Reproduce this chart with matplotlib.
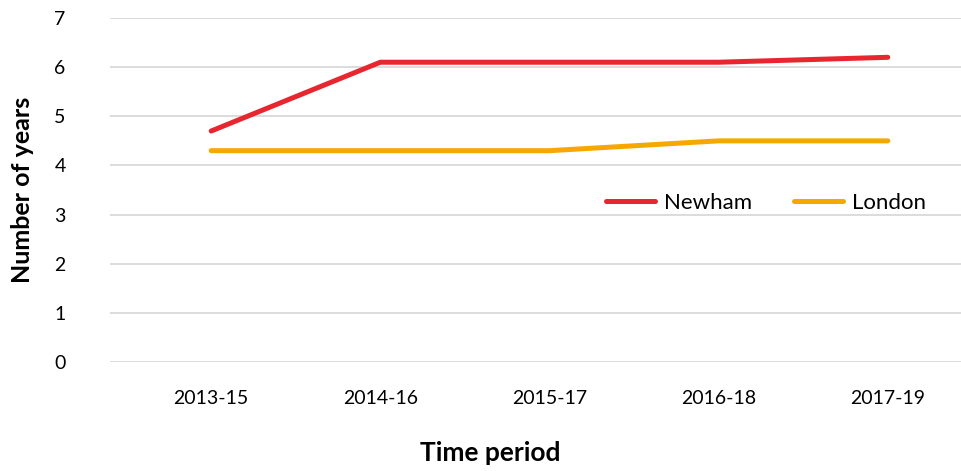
import matplotlib
matplotlib.use("Agg")
import matplotlib.pyplot as plt

periods = ["2013-15", "2014-16", "2015-17", "2016-18", "2017-19"]
newham = [4.7, 6.1, 6.1, 6.1, 6.2]
london = [4.3, 4.3, 4.3, 4.5, 4.5]

plt.rcParams['font.family'] = ['Lato', 'DejaVu Sans']

fig = plt.figure(figsize=(9.61, 4.71), dpi=100)
ax = fig.add_axes([0.1145, 0.2314, 0.885, 0.7304])

x = range(len(periods))
ax.plot(x, newham, color='#E8262F', lw=3.6, label='Newham', solid_capstyle='round')
ax.plot(x, london, color='#F5A800', lw=3.6, label='London', solid_capstyle='round')

ax.set_xlim(-0.598, 4.43)
ax.set_ylim(0, 7)
ax.set_yticks(range(0, 8))
ax.set_xticks(list(x))
ax.set_xticklabels(periods)
ax.yaxis.grid(True, color='#d9d9d9', lw=1.3)
ax.set_axisbelow(True)
for s in ax.spines.values():
    s.set_visible(False)
ax.tick_params(axis='both', length=0, labelsize=14)
ax.tick_params(axis='y', pad=32)
ax.tick_params(axis='x', pad=20)

ax.set_ylabel('Number of years', fontsize=18, fontweight='bold', va='center')
ax.yaxis.set_label_coords(-0.1035, 0.5)
ax.set_xlabel('Time period', fontsize=19, fontweight='bold', va='center')
ax.xaxis.set_label_coords(0.447, -0.2645)

ax.legend(loc='center', bbox_to_anchor=(0.771, 0.462), ncol=2, frameon=False,
          fontsize=16, handlelength=2.2, columnspacing=1.9, handletextpad=0.4)

fig.savefig('out.png', dpi=100)
